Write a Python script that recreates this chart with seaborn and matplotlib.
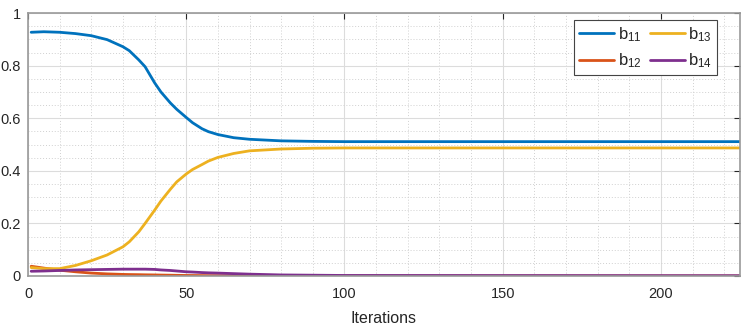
import matplotlib
matplotlib.use("Agg")
import matplotlib.pyplot as plt
import numpy as np
import pandas as pd
import seaborn as sns
from matplotlib.ticker import MultipleLocator, FuncFormatter

# values, at selected iterations
iters = [1, 5, 10, 15, 20, 25, 30, 32, 35, 37, 40, 42, 45, 47, 50, 52, 55, 57, 60, 65, 70,
         80, 90, 100, 225]
b11 = [0.927, 0.929, 0.927, 0.922, 0.914, 0.899, 0.872, 0.857, 0.822, 0.796, 0.735, 0.700,
       0.658, 0.634, 0.603, 0.583, 0.560, 0.549, 0.538, 0.526, 0.520, 0.514, 0.512, 0.511, 0.511]
b12 = [0.037, 0.030, 0.022, 0.016, 0.011, 0.008, 0.006, 0.0055, 0.005, 0.0045, 0.004, 0.0035,
       0.003, 0.0025, 0.002, 0.0018, 0.0015, 0.0012, 0.001, 0.001, 0.0008, 0.0005, 0.0003,
       0.0002, 0.0]
b13 = [0.032, 0.028, 0.028, 0.040, 0.058, 0.080, 0.111, 0.130, 0.168, 0.200, 0.250, 0.285,
       0.330, 0.358, 0.388, 0.405, 0.424, 0.437, 0.451, 0.466, 0.476, 0.483, 0.486, 0.487, 0.487]
b14 = [0.018, 0.019, 0.021, 0.023, 0.024, 0.025, 0.026, 0.026, 0.026, 0.026, 0.025, 0.023,
       0.021, 0.019, 0.016, 0.015, 0.013, 0.012, 0.011, 0.009, 0.007, 0.004, 0.003, 0.002, 0.001]
labels = ["b11", "b12", "b13", "b14"]
colors = ["#0072BD", "#D95319", "#EDB120", "#7E2F8E"]

df = pd.concat([pd.DataFrame({"it": iters, "val": v, "name": n})
                for v, n in zip([b11, b12, b13, b14], labels)])

sns.set_style("white")
plt.rcParams["font.family"] = ["Liberation Sans", "DejaVu Sans"]
plt.rcParams["mathtext.default"] = "regular"

fig, ax = plt.subplots(figsize=(7.47, 3.27), dpi=100)
fig.subplots_adjust(left=0.0375, right=0.9906, top=0.960, bottom=0.156)

sns.lineplot(data=df, x="it", y="val", hue="name", palette=dict(zip(labels, colors)),
             linewidth=2, ax=ax, legend=False)

ax.set_xlim(0, 225)
ax.set_ylim(0, 1)
ax.xaxis.set_major_locator(MultipleLocator(50))
ax.xaxis.set_minor_locator(MultipleLocator(10))
ax.yaxis.set_major_locator(MultipleLocator(0.2))
ax.yaxis.set_minor_locator(MultipleLocator(0.05))
ax.yaxis.set_major_formatter(FuncFormatter(lambda v, p: f"{v:g}"))
ax.grid(True, which="major", color="#dcdcdc", linewidth=0.8)
ax.grid(True, which="minor", color="#d0d0d0", linestyle=(0, (1, 2)), linewidth=0.7)
ax.set_axisbelow(True)
ax.tick_params(which="major", direction="in", length=4, top=True, right=True,
               labelsize=10.5, color="#262626", labelcolor="#262626")
ax.tick_params(axis="x", pad=8)
ax.tick_params(axis="y", pad=5)
ax.tick_params(which="minor", length=0)
for s in ax.spines.values():
    s.set_color("#999999")
    s.set_linewidth(1.2)
ax.set_xlabel("Iterations", fontsize=11.5, color="#262626", labelpad=7)
ax.set_ylabel("")

handles = [plt.Line2D([], [], color=c, linewidth=2) for c in colors]
leg = ax.legend(handles, [r"b$_{11}$", r"b$_{12}$", r"b$_{13}$", r"b$_{14}$"],
                ncol=2, loc="upper right", bbox_to_anchor=(0.968, 0.973), borderaxespad=0,
                fontsize=12, frameon=True, fancybox=False, framealpha=1, edgecolor="#444444",
                handlelength=2.1, handletextpad=0.2, columnspacing=0.5,
                labelspacing=0.45, borderpad=0.3)
leg.get_frame().set_linewidth(0.8)

fig.savefig("out.png", dpi=100)
